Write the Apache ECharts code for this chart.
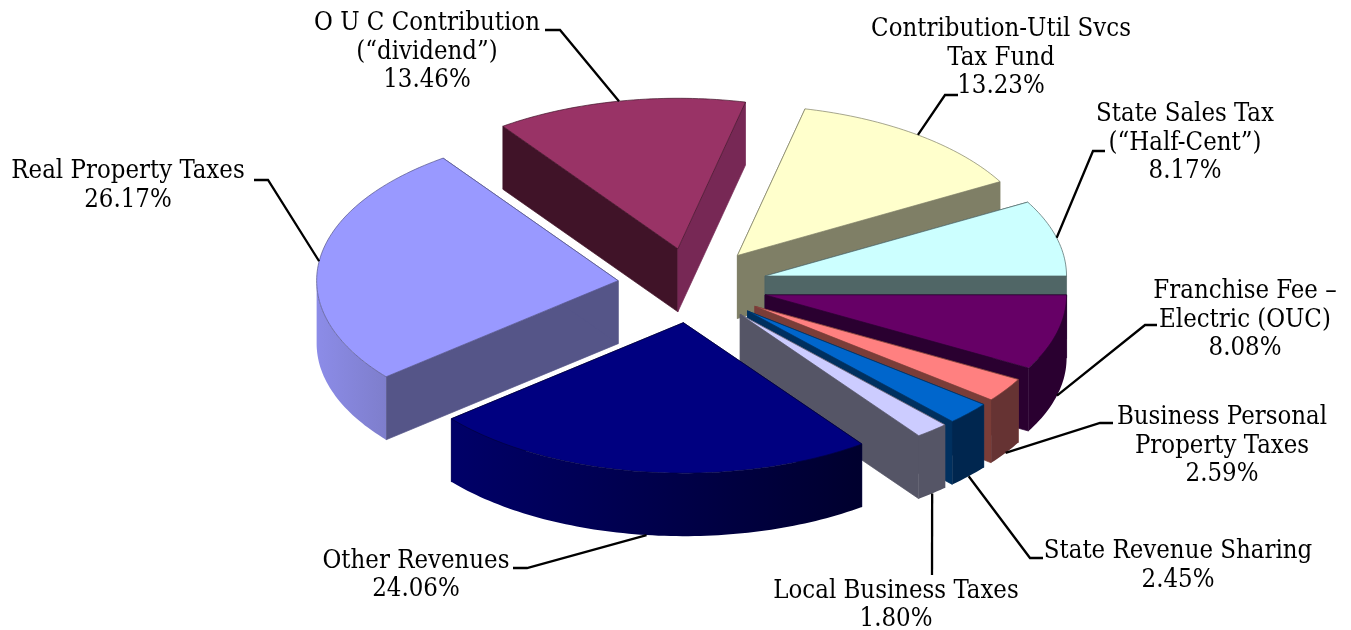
<!DOCTYPE html>
<html><head><meta charset="utf-8">
<style>html,body{margin:0;padding:0;background:#fff}#c{width:1351px;height:630px;filter:blur(0.45px)}</style>
<script src="https://cdn.jsdelivr.net/npm/echarts@6/dist/echarts.min.js"></script>
</head><body><div id="c"></div>
<script>
// Chart data, in clockwise order starting from 3 o'clock
const categories = ['Franchise Fee –\nElectric (OUC)','Business Personal\nProperty Taxes','State Revenue Sharing','Local Business Taxes','Other Revenues','Real Property Taxes','O U C Contribution\n(“dividend”)','Contribution-Util Svcs\nTax Fund','State Sales Tax\n(“Half-Cent”)'];
const shares = [8.08,2.59,2.45,1.80,24.06,26.17,13.46,13.23,8.17];

// Styling
const topColors   = ['#660066','#FF8080','#0066CC','#CCCCFF','#000080','#9999FF','#993366','#FFFFCC','#CCFFFF'];
const startColors = ['#2A0030','#7A3D38','#00305F','#555566','#000040','#555588','#401328','#7F7F66','#506666']; // wall along the slice's start edge
const endColors   = ['#2A0030','#7A3D38','#00305F','#555566','#000040','#555588','#772855','#7F7F66','#506666']; // wall along the slice's end edge
const arcColors   = [['#2A0030','#2A0030'],['#663333','#663333'],['#00264F','#00264F'],['#555566','#555566'],['#000068','#00002E'],['#8C8CE8','#7E7ECC'],['#000','#000'],['#000','#000'],['#000','#000']];
const paintOrder  = [6,7,5,8,0,1,2,3,4];

// Projection of the pie
const cx = 692.5, cy = 285.5, rx = 301.5, ry = 150.5, explode = 75, depth = 63;

// Label layout: text centre, then leader elbow points, running from the slice outwards
const labelCentres = [[1245,320],[1222,446],[1178,566],[896,605.5],[416,575.5],[128,186],[427,52],[1001,58],[1185,143]];
const leaderPaths = [
  [[1145,325],[1157,325]],
  [[1100,423],[1113,423]],
  [[1030,558],[1043,558]],
  [[932,575]],
  [[527,568],[513,568]],
  [[268,180],[254,180]],
  [[560,30],[545,30]],
  [[945,95],[958,95]],
  [[1093,151],[1105,151]]
];
const labelFont = '"DejaVu Serif Condensed","DejaVu Serif",serif';
const labelSize = 25.5;

const total = shares.reduce((a,b)=>a+b,0);
const starts = []; { let s=0; for (const v of shares){ starts.push(s); s+=v; } }
const toRad = v => v/total*Math.PI*2;

function renderItem(params, api){
  const i = params.dataIndex;
  const a0 = toRad(starts[i]), a1 = a0 + toRad(api.value(0)), mid = (a0+a1)/2;
  const ox = cx + explode*Math.cos(mid), oy = cy + explode*ry/rx*Math.sin(mid);
  const pt = (a,dz=0)=>[ox+rx*Math.cos(a), oy+ry*Math.sin(a)+dz];
  const arc = (s,e,dz=0)=>{const n=Math.max(2,Math.ceil((e-s)/0.02)),r=[];for(let k=0;k<=n;k++)r.push(pt(s+(e-s)*k/n,dz));return r;};
  const base = paintOrder.indexOf(i)*10;
  const poly = (points,fill,z,stroke)=>({type:'polygon',z2:base+z,silent:true,shape:{points},style:{fill,stroke:stroke||null,lineWidth:stroke?0.7:0}});
  const kids = [];
  const apex=[ox,oy], apexB=[ox,oy+depth];
  // side walls
  kids.push(poly([apex,pt(a0),pt(a0,depth),apexB],startColors[i],0,startColors[i]));
  kids.push(poly([apex,pt(a1),pt(a1,depth),apexB],endColors[i],1,endColors[i]));
  // outer wall (only the part that faces the viewer)
  const s=Math.max(a0,0), e=Math.min(a1,Math.PI);
  if (e>s) {
    const c=arcColors[i];
    const fill={type:'linear',x:0,y:0,x2:1,y2:0,colorStops:[{offset:0,color:c[0]},{offset:1,color:c[1]}]};
    kids.push(poly(arc(s,e).concat(arc(s,e,depth).reverse()),fill,2));
  }
  // top face
  kids.push(poly([apex].concat(arc(a0,a1)),topColors[i],3,startColors[i]));
  // leader line: from the middle of the slice's outer edge
  const anchor = mid<Math.PI ? pt(mid,depth) : pt(mid);
  kids.push({type:'polyline',z2:900,silent:true,shape:{points:[anchor].concat(leaderPaths[i])},style:{fill:null,stroke:'#000',lineWidth:2.3}});
  // label
  const pct = api.value(0).toFixed(2)+'%';
  kids.push({type:'text',z2:1000,silent:true,style:{x:labelCentres[i][0],y:labelCentres[i][1],text:categories[i]+'\n'+pct,align:'center',verticalAlign:'middle',font:labelSize+'px '+labelFont,lineHeight:28.5,fill:'#000'}});
  return {type:'group',children:kids};
}

const chart = echarts.init(document.getElementById('c'),null,{renderer:'canvas'});
chart.setOption({
  animation:false,
  backgroundColor:'#fff',
  series:[{type:'custom',coordinateSystem:'none',renderItem,silent:true,
    data:shares.map((v,i)=>({name:categories[i],value:[v]}))}]
});
</script></body></html>
